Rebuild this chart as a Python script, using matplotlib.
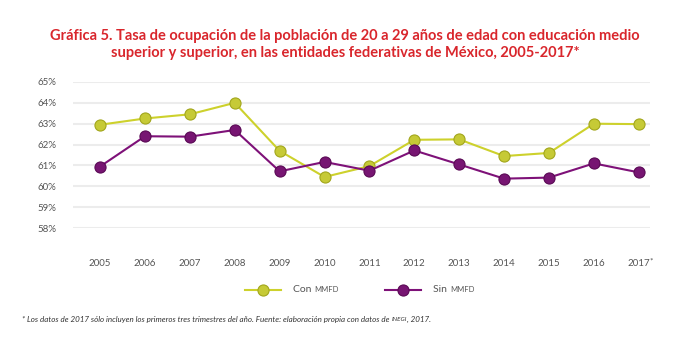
import matplotlib
matplotlib.use("Agg")
import matplotlib.pyplot as plt
from matplotlib.lines import Line2D

plt.rcParams['font.family'] = ['Lato', 'DejaVu Sans']

years = ['2005', '2006', '2007', '2008', '2009', '2010', '2011', '2012',
         '2013', '2014', '2015', '2016', '2017']
con_mmfd = [62.95, 63.25, 63.45, 64.0, 61.7, 60.45, 60.97, 62.23,
            62.25, 61.45, 61.6, 63.0, 62.98]
sin_mmfd = [60.95, 62.4, 62.38, 62.7, 60.72, 61.17, 60.75, 61.72,
            61.05, 60.37, 60.42, 61.1, 60.67]
yticks = [58, 59, 60, 61, 62, 63, 64, 65]

yellow = '#cdd12c'
yellow_fill = '#c6ca36'
yellow_edge = '#a2a61c'
purple = '#7e1178'
purple_fill = '#771572'
purple_edge = '#5a0a55'
red = '#d9262c'
gray = '#555555'

fig = plt.figure(figsize=(6.9, 3.4), dpi=100)
ax = fig.add_axes([0.106, 0.329, 0.836, 0.43])

x = list(range(len(years)))
ax.plot(x, con_mmfd, color=yellow, lw=1.5, marker='o', ms=8,
        mfc=yellow_fill, mec=yellow_edge, mew=0.8, zorder=3, clip_on=False)
ax.plot(x, sin_mmfd, color=purple, lw=1.5, marker='o', ms=8,
        mfc=purple_fill, mec=purple_edge, mew=0.8, zorder=3, clip_on=False)

ax.set_xlim(-0.6, 12.25)
ax.set_ylim(58, 65)
ax.set_yticks(yticks)
ax.set_yticklabels([f'{v}%' for v in yticks])
ax.set_xticks(x)
ax.set_xticklabels(years)
ax.grid(axis='y', color='#ececec', lw=1.5)
ax.set_axisbelow(True)
for s in ax.spines.values():
    s.set_visible(False)
ax.tick_params(axis='both', length=0, labelsize=7, colors=gray)
ax.tick_params(axis='x', pad=22)
ax.tick_params(axis='y', pad=12)
# asterisk on the 2017 label
ax.annotate('*', xy=(12, 0), xycoords=('data', 'axes fraction'),
            xytext=(7.8, -23.5), textcoords='offset points',
            ha='left', va='center', fontsize=6, color=gray)

fig.text(0.5, 0.895, 'Gráfica 5. Tasa de ocupación de la población de 20 a 29 años de edad con educación medio',
         ha='center', va='center', color=red, fontsize=10.5, fontweight='bold')
fig.text(0.5, 0.845, 'superior y superior, en las entidades federativas de México, 2005-2017*',
         ha='center', va='center', color=red, fontsize=10.5, fontweight='bold')

# legend
for lx, col, fc, ec, lab in [(0.355, yellow, yellow_fill, yellow_edge, 'Con '),
                             (0.558, purple, purple_fill, purple_edge, 'Sin ')]:
    fig.add_artist(Line2D([lx, lx + 0.052], [0.148, 0.148], color=col, lw=1.5,
                          transform=fig.transFigure))
    fig.add_artist(Line2D([lx + 0.026], [0.148], marker='o', ms=8, mfc=fc, mec=ec,
                          mew=0.8, transform=fig.transFigure))
    t = fig.text(lx + 0.07, 0.148, lab, ha='left', va='center', fontsize=7.5, color=gray)
    fig.canvas.draw()
    bb = t.get_window_extent().transformed(fig.transFigure.inverted())
    fig.text(bb.x1, 0.148, 'MMFD', ha='left', va='center', fontsize=5.5, color=gray)

t = fig.text(0.032, 0.06, '* Los datos de 2017 sólo incluyen los primeros tres trimestres del año. Fuente: elaboración propia con datos de ',
             ha='left', va='center', fontsize=5.8, style='italic', color='#333333')
fig.canvas.draw()
bb = t.get_window_extent().transformed(fig.transFigure.inverted())
t2 = fig.text(bb.x1, 0.06, 'INEGI', ha='left', va='center', fontsize=4.5, style='italic', color='#333333')
fig.canvas.draw()
bb = t2.get_window_extent().transformed(fig.transFigure.inverted())
fig.text(bb.x1, 0.06, ', 2017.', ha='left', va='center', fontsize=5.8, style='italic', color='#333333')

fig.savefig('out.png', dpi=100)
